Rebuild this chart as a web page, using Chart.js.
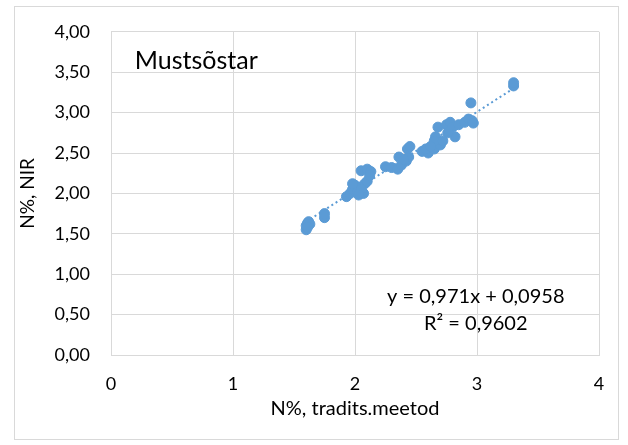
<!DOCTYPE html>
<html>
<head>
<meta charset="utf-8">
<script src="https://cdn.jsdelivr.net/npm/chart.js@4"></script>
<style>
    body { margin: 0; background: #fff; }
    #wrap { position: relative; width: 628px; height: 445px; }
</style>
</head>
<body>
<div id="wrap"><canvas id="nChart" width="628" height="445"></canvas></div>
<script>
// N% by the traditional method vs. NIR
const tradValues = [
    1.60, 1.60, 1.61, 1.62, 1.63, 1.61, 1.75, 1.75,
    1.93, 1.96, 1.98, 2.00, 2.02, 2.05, 2.07, 2.08, 2.10, 2.05, 1.98, 2.03,
    2.05, 2.10, 2.13, 2.12,
    2.25, 2.30, 2.35, 2.38, 2.36, 2.42, 2.44, 2.43, 2.45, 2.40,
    2.55, 2.60, 2.58, 2.65, 2.67, 2.66, 2.68, 2.70, 2.65, 2.62,
    2.75, 2.78, 2.80, 2.82, 2.85, 2.90, 2.93, 2.95, 2.96, 2.97, 2.76, 2.72,
    3.30, 3.30
];
const nirValues = [
    1.55, 1.60, 1.63, 1.65, 1.62, 1.58, 1.70, 1.75,
    1.96, 2.00, 2.05, 2.10, 2.02, 2.08, 2.00, 2.12, 2.15, 2.05, 2.12, 1.98,
    2.28, 2.30, 2.27, 2.22,
    2.33, 2.32, 2.30, 2.35, 2.45, 2.40, 2.45, 2.55, 2.58, 2.42,
    2.52, 2.50, 2.55, 2.55, 2.62, 2.70, 2.82, 2.60, 2.65, 2.58,
    2.85, 2.88, 2.82, 2.70, 2.85, 2.88, 2.92, 3.12, 2.90, 2.87, 2.75, 2.65,
    3.33, 3.37
];
const trendSlope = 0.971;
const trendIntercept = 0.0958;
const rSquared = 0.9602;
const xTicks = [0, 1, 2, 3, 4];
const yTicks = [0, 0.5, 1, 1.5, 2, 2.5, 3, 3.5, 4];

const blue = '#5b9bd5';
const fontFamily = 'Lato, "Open Sans", sans-serif';
const comma = (v, d) => v.toFixed(d).replace('.', ',');

const points = tradValues.map((x, i) => ({ x: x, y: nirValues[i] }));
const xMin = Math.min(...tradValues);
const xMax = Math.max(...tradValues);
const trendPoints = [xMin, xMax].map((x) => ({ x: x, y: trendSlope * x + trendIntercept }));

// outer frame + text labels inside the plot
const extras = {
    id: 'extras',
    beforeDraw(chart) {
        const ctx = chart.ctx;
        ctx.save();
        ctx.fillStyle = '#fff';
        ctx.fillRect(0, 0, chart.width, chart.height);
        ctx.strokeStyle = '#d9d9d9';
        ctx.lineWidth = 1;
        ctx.strokeRect(14.5, 6.5, 604, 433);
        ctx.restore();
    },
    afterDatasetsDraw(chart) {
        const ctx = chart.ctx;
        const xs = chart.scales.x;
        const ys = chart.scales.y;
        ctx.save();
        ctx.fillStyle = '#000';
        ctx.textBaseline = 'middle';
        ctx.font = '25px ' + fontFamily;
        ctx.textAlign = 'left';
        ctx.fillText('Mustsõstar', xs.getPixelForValue(0.195), ys.getPixelForValue(3.64));
        ctx.font = '20px ' + fontFamily;
        ctx.textAlign = 'center';
        const eq = 'y = ' + comma(trendSlope, 3) + 'x + ' + comma(trendIntercept, 4);
        ctx.fillText(eq, xs.getPixelForValue(2.99), ys.getPixelForValue(0.72));
        ctx.fillText('R² = ' + comma(rSquared, 4), xs.getPixelForValue(2.99), ys.getPixelForValue(0.39));
        ctx.restore();
    }
};

new Chart(document.getElementById('nChart'), {
    type: 'scatter',
    data: {
        datasets: [
            {
                data: points,
                backgroundColor: blue,
                borderColor: blue,
                pointRadius: 5,
                pointHoverRadius: 5,
                order: 1,
            },
            {
                type: 'line',
                data: trendPoints,
                borderColor: blue,
                borderWidth: 2,
                borderDash: [2, 3],
                pointRadius: 0,
                fill: false,
                order: 2,
            },
        ],
    },
    options: {
        responsive: false,
        animation: false,
        layout: { padding: { left: 12, right: 29, top: 15, bottom: 20 } },
        plugins: {
            legend: { display: false },
            tooltip: { enabled: false },
        },
        scales: {
            x: {
                type: 'linear',
                min: 0,
                max: 4,
                afterBuildTicks: (axis) => { axis.ticks = xTicks.map((v) => ({ value: v })); },
                afterFit: (axis) => { axis.height = 70; },
                grid: { color: '#d9d9d9', drawTicks: false },
                border: { color: '#d9d9d9' },
                ticks: {
                    color: '#000',
                    padding: 18,
                    font: { family: fontFamily, size: 18 },
                    callback: (v) => String(v),
                },
                title: {
                    display: true,
                    text: 'N%, tradits.meetod',
                    color: '#000',
                    font: { family: fontFamily, size: 20 },
                    padding: { top: 0 },
                },
            },
            y: {
                type: 'linear',
                min: 0,
                max: 4,
                afterBuildTicks: (axis) => { axis.ticks = yTicks.map((v) => ({ value: v })); },
                afterFit: (axis) => { axis.width = 99; },
                grid: { color: '#d9d9d9', drawTicks: false },
                border: { color: '#d9d9d9' },
                ticks: {
                    color: '#000',
                    padding: 21,
                    font: { family: fontFamily, size: 18 },
                    callback: (v) => comma(v, 2),
                },
                title: {
                    display: true,
                    text: 'N%, NIR',
                    color: '#000',
                    font: { family: fontFamily, size: 19 },
                    padding: { bottom: 0 },
                },
            },
        },
    },
    plugins: [extras],
});
</script>
</body>
</html>
